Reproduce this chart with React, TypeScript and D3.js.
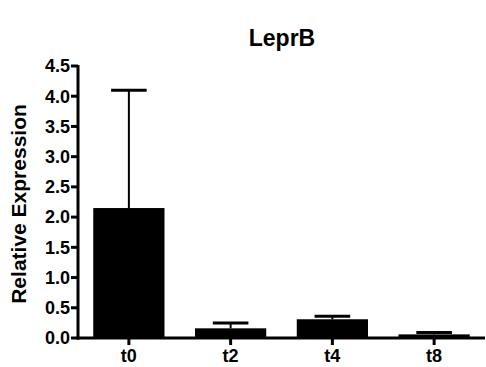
import React from "react";
import * as d3 from "d3";

const categories = ["t0", "t2", "t4", "t8"];
const means = [2.15, 0.16, 0.31, 0.06];
const errors = [1.95, 0.09, 0.05, 0.03];
const yTicks = [0, 0.5, 1.0, 1.5, 2.0, 2.5, 3.0, 3.5, 4.0, 4.5];
const title = "LeprB";
const yLabel = "Relative Expression";

export default function App() {
  const W = 486, H = 367;
  const left = 78, right = 485, top = 66, bottom = 338;
  const x = d3.scaleBand().domain(categories).range([left, right]).paddingInner(0.3).paddingOuter(0.15);
  const y = d3.scaleLinear().domain([0, 4.5]).range([bottom, top]);
  const font = "'Liberation Sans', Arial, sans-serif";
  return (
    <svg width={W} height={H} style={{ position: "absolute", left: 0, top: 0 }}>
      <rect width={W} height={H} fill="#fff" />
      <text x={282} y={46} textAnchor="middle" fontFamily={font} fontWeight="bold" fontSize={23}>{title}</text>
      <text transform={`translate(26,${(top + bottom) / 2 + 2}) rotate(-90)`} textAnchor="middle" fontFamily={font} fontWeight="bold" fontSize={21}>{yLabel}</text>
      {categories.map((c, i) => {
        const bx = x(c)!;
        const bw = x.bandwidth();
        const cx = bx + bw / 2;
        const yt = y(means[i] + errors[i]);
        return (
          <g key={c}>
            <rect x={bx} y={y(means[i])} width={bw} height={bottom - y(means[i])} fill="#000" />
            <line x1={cx} x2={cx} y1={y(means[i])} y2={yt} stroke="#000" strokeWidth={2} />
            <line x1={cx - bw / 4} x2={cx + bw / 4} y1={yt} y2={yt} stroke="#000" strokeWidth={3} />
          </g>
        );
      })}
      <line x1={left} x2={left} y1={top - 1} y2={bottom + 1.5} stroke="#000" strokeWidth={3} />
      <line x1={left - 1.5} x2={right} y1={bottom} y2={bottom} stroke="#000" strokeWidth={3} />
      {yTicks.map((t) => (
        <g key={t}>
          <line x1={left - 7} x2={left} y1={y(t)} y2={y(t)} stroke="#000" strokeWidth={3} />
          <text x={left - 8} y={y(t)} dy="0.35em" textAnchor="end" fontFamily={font} fontWeight="bold" fontSize={18}>{t.toFixed(1)}</text>
        </g>
      ))}
      {categories.map((c) => {
        const cx = x(c)! + x.bandwidth() / 2;
        return (
          <g key={c}>
            <line x1={cx} x2={cx} y1={bottom} y2={bottom + 7} stroke="#000" strokeWidth={3} />
            <text x={cx} y={bottom + 24} textAnchor="middle" fontFamily={font} fontWeight="bold" fontSize={18}>{c}</text>
          </g>
        );
      })}
    </svg>
  );
}
